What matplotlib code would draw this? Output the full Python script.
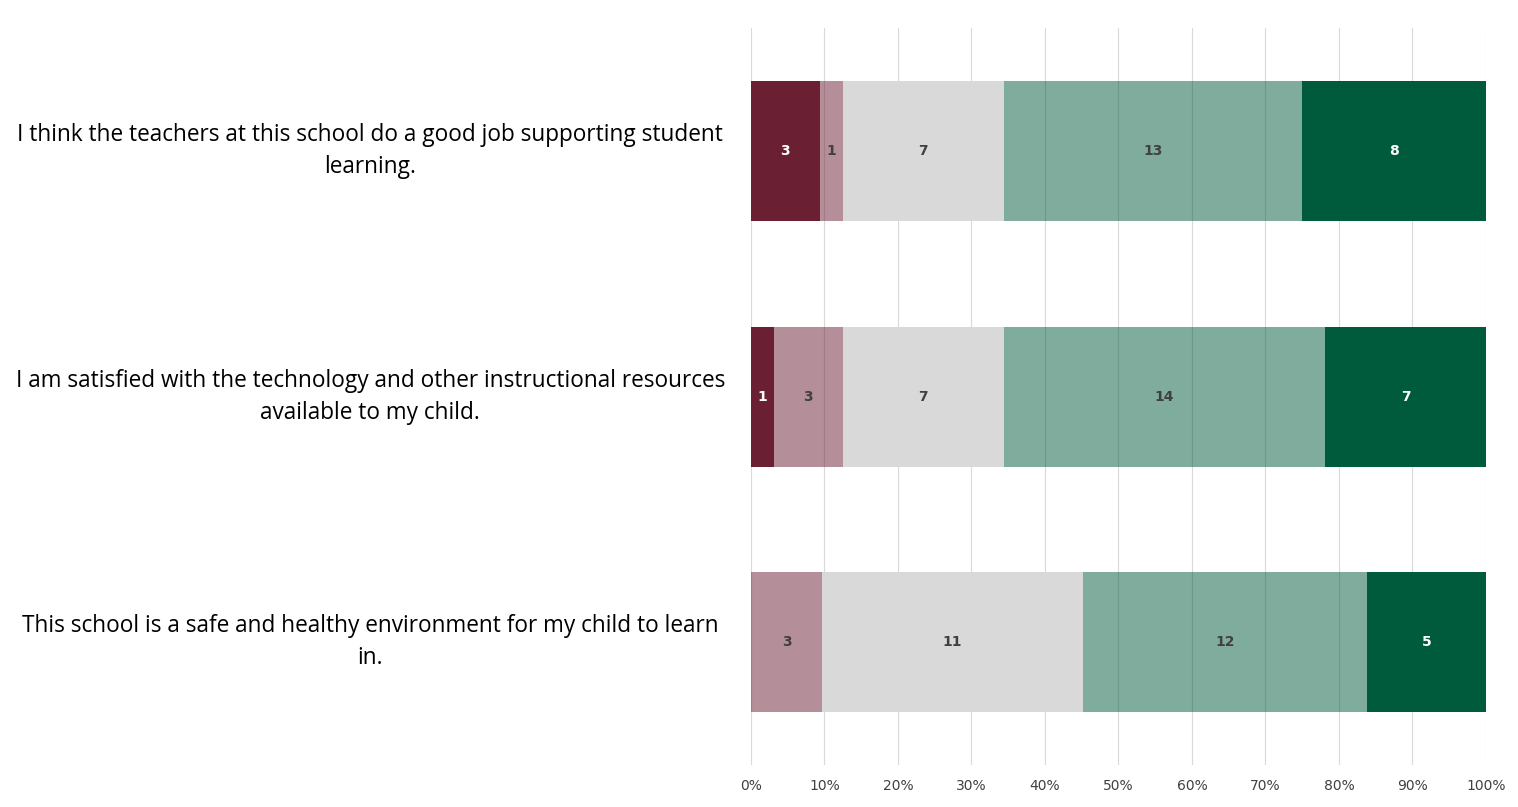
import matplotlib.pyplot as plt
import numpy as np

questions = [
    "I think the teachers at this school do a good job supporting student\nlearning.",
    "I am satisfied with the technology and other instructional resources\navailable to my child.",
    "This school is a safe and healthy environment for my child to learn\nin.",
]
strongly_disagree = [3, 1, 0]
disagree = [1, 3, 3]
neutral = [7, 7, 11]
agree = [13, 14, 12]
strongly_agree = [8, 7, 5]

series = [strongly_disagree, disagree, neutral, agree, strongly_agree]
colors = ["#6B1F32", "#6B1F32", "#D9D9D9", "#005A3C", "#005A3C"]
alphas = [1.0, 0.5, 1.0, 0.5, 1.0]
text_colors = ["white", "#404040", "#404040", "#404040", "white"]

counts = np.array(series, dtype=float)
totals = counts.sum(axis=0)
pct = counts / totals * 100

fig = plt.figure(figsize=(15.18, 8.07), dpi=100)
ax = fig.add_axes([0.4947, 0.052, 0.4842, 0.913])

y = np.arange(len(questions))
left = np.zeros(len(questions))
for i in range(len(series)):
    bars = ax.barh(y, pct[i], left=left, height=0.57, color=colors[i],
                   alpha=alphas[i], zorder=2)
    for j, b in enumerate(bars):
        if counts[i][j] > 0:
            ax.text(left[j] + pct[i][j] / 2, y[j], f"{int(counts[i][j])}",
                    ha="center", va="center", fontsize=10, fontweight="bold",
                    color=text_colors[i], zorder=3)
    left += pct[i]

ax.set_xlim(0, 100)
ax.set_ylim(2.5, -0.5)
ax.set_xticks(np.arange(0, 101, 10))
ax.set_xticklabels([f"{v}%" for v in range(0, 101, 10)], fontsize=10, color="#404040")
ax.set_yticks(y)
ax.set_yticklabels(questions, fontsize=16.3, family="Open Sans", ha="center",
                   va="center", multialignment="center", linespacing=1.45)
ax.tick_params(axis="y", length=0, pad=0)
ax.tick_params(axis="x", length=0, pad=10)
for lbl in ax.get_yticklabels():
    lbl.set_x(-0.518)
ax.grid(axis="x", color="#D9D9D9", linewidth=0.8, zorder=0)
ax.set_axisbelow(True)
for s in ax.spines.values():
    s.set_visible(False)

fig.savefig("out.png", dpi=100)
